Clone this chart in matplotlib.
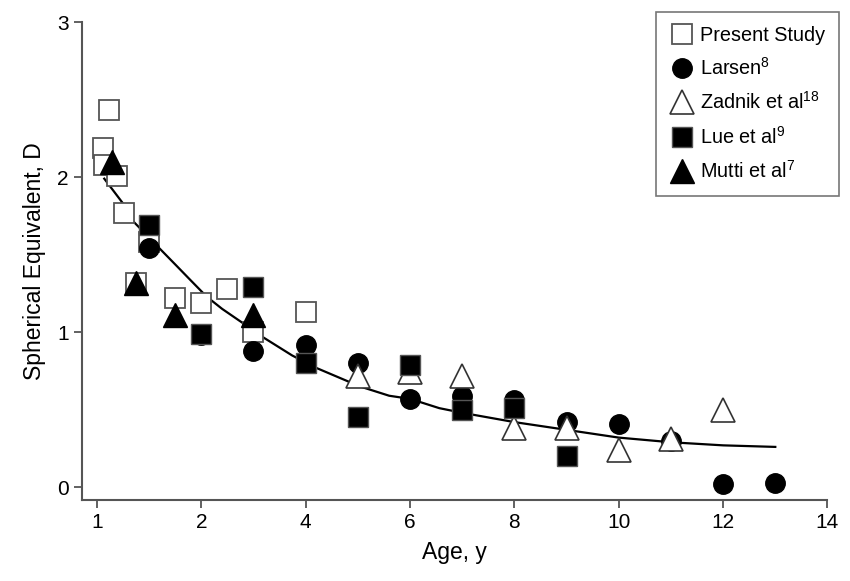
import numpy as np
import matplotlib
matplotlib.use('Agg')
import matplotlib.pyplot as plt

plt.rcParams['font.family'] = ['Liberation Sans', 'DejaVu Sans']
plt.rcParams['mathtext.fontset'] = 'custom'
plt.rcParams['mathtext.rm'] = 'Liberation Sans'
plt.rcParams['mathtext.default'] = 'regular'

# data (age in years, spherical equivalent in D)
present_x = [1.06, 1.12, 1.07, 1.19, 1.26, 1.37, 1.5, 1.75, 2.0, 2.5, 3.0, 4.0]
present_y = [2.19, 2.43, 2.08, 2.01, 1.77, 1.32, 1.58, 1.22, 1.19, 1.28, 1.00, 1.13]

larsen_x = [1.5, 2, 3, 4, 5, 6, 7, 8, 9, 10, 11, 12, 13]
larsen_y = [1.54, 0.98, 0.88, 0.92, 0.80, 0.57, 0.59, 0.56, 0.42, 0.41, 0.30, 0.02, 0.03]

zadnik_x = [5, 6, 7, 8, 9, 10, 11, 12]
zadnik_y = [0.72, 0.74, 0.72, 0.38, 0.38, 0.24, 0.31, 0.50]

lue_x = [1.5, 2, 3, 4, 5, 6, 7, 8, 9]
lue_y = [1.69, 0.99, 1.29, 0.80, 0.45, 0.79, 0.50, 0.51, 0.20]

mutti_x = [1.14, 1.37, 1.75, 3.0]
mutti_y = [2.10, 1.32, 1.11, 1.11]

# fitted curve, points
fit_x = [1.07, 1.25, 1.34, 1.5, 1.6, 1.76, 1.89, 2.1, 2.4, 2.79, 3.17, 3.74,
         4.2, 5.04, 5.6, 6, 6.56, 7, 8, 9, 10, 11, 12, 13]
fit_y = [1.99, 1.83, 1.72, 1.61, 1.54, 1.43, 1.34, 1.23, 1.15, 1.06, 0.97, 0.85,
         0.77, 0.65, 0.59, 0.57, 0.51, 0.48, 0.42, 0.37, 0.32, 0.29, 0.27, 0.26]

xticks = [1, 2, 4, 6, 8, 10, 12, 14]
yticks = [0, 1, 2, 3]


# axis is stretched between 1 and 2 (1->2 spans the same as 2->4)
def fwd(x):
    x = np.asarray(x, dtype=float)
    return np.where(x < 2, x - 1, 1 + (x - 2) / 2)


def inv(u):
    u = np.asarray(u, dtype=float)
    return np.where(u < 1, u + 1, 2 + 2 * (u - 1))


grey = '#555555'
fig = plt.figure(figsize=(8.5, 5.81), dpi=100)
ax = fig.add_axes([0.0965, 0.139, 0.877, 0.823])
ax.set_xscale('function', functions=(fwd, inv))

ax.plot(fit_x, fit_y, color='black', lw=1.6, zorder=1)
ax.plot(present_x, present_y, 's', ms=15, mfc='white', mec=grey, mew=1.3,
        ls='none', label='Present Study', zorder=2)
ax.plot(larsen_x, larsen_y, 'o', ms=14, mfc='black', mec='black',
        ls='none', label='Larsen$^{8}$', zorder=3)
ax.plot(zadnik_x, zadnik_y, '^', ms=17, mfc='white', mec='#333333', mew=1.2,
        ls='none', label='Zadnik et al$^{18}$', zorder=4)
ax.plot(lue_x, lue_y, 's', ms=14, mfc='black', mec=grey, mew=1.0,
        ls='none', label='Lue et al$^{9}$', zorder=5)
ax.plot(mutti_x, mutti_y, '^', ms=17, mfc='black', mec='black',
        ls='none', label='Mutti et al$^{7}$', zorder=6)

ax.set_xlim(0.857, 14)
ax.set_ylim(-0.084, 3)
ax.set_xticks(xticks)
ax.set_xticklabels([str(t) for t in xticks])
ax.set_yticks(yticks)
ax.minorticks_off()

for s in ['top', 'right']:
    ax.spines[s].set_visible(False)
for s in ['left', 'bottom']:
    ax.spines[s].set_color(grey)
    ax.spines[s].set_linewidth(1.5)
ax.tick_params(colors=grey, labelcolor='black', labelsize=15, length=6, width=1.3)

ax.set_xlabel('Age, y', fontsize=16.5, labelpad=6)
ax.set_ylabel('Spherical Equivalent, D', fontsize=16.5, labelpad=8)

leg = ax.legend(loc='upper right', bbox_to_anchor=(1.029, 1.042), fontsize=14.3,
                frameon=True, fancybox=False, edgecolor=grey, handletextpad=0.3,
                borderpad=0.7, labelspacing=0.62, handlelength=1.2)
leg.get_frame().set_linewidth(1.2)

plt.savefig('out.png', dpi=100)
